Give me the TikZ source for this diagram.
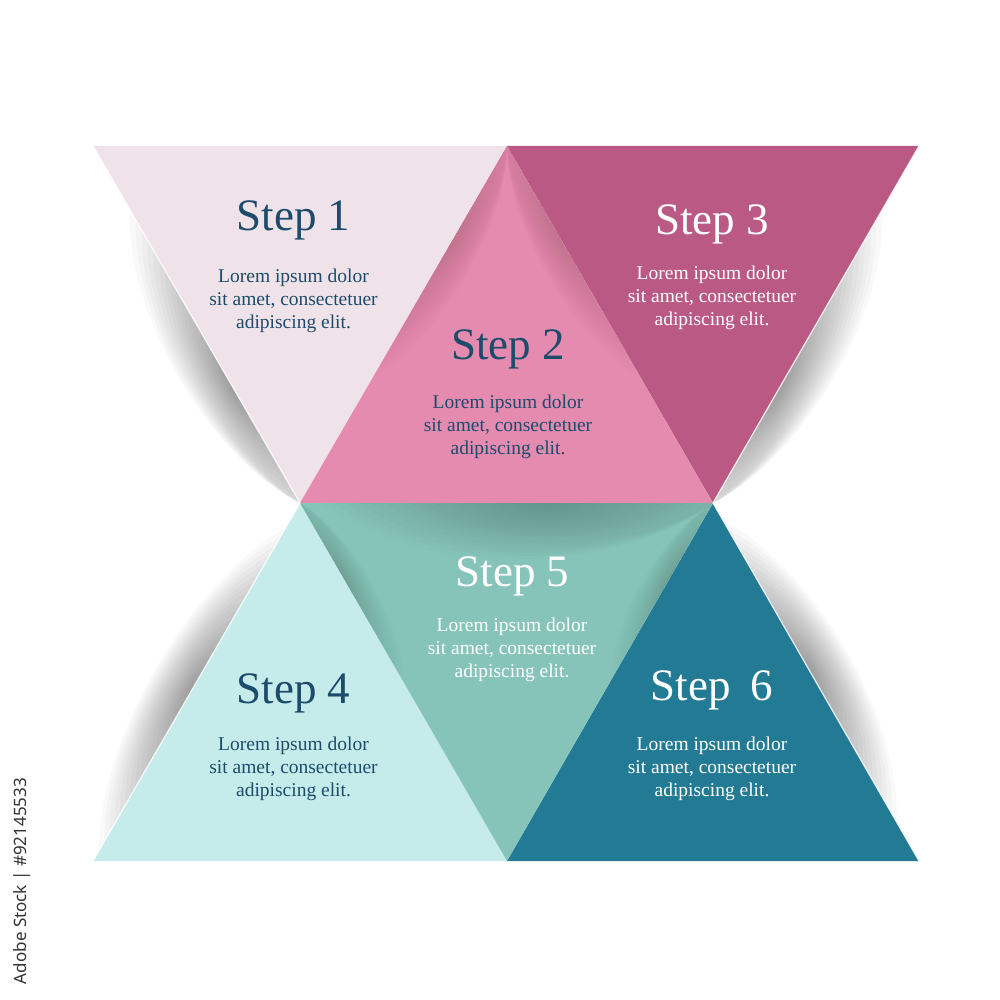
\documentclass[tikz,border=0pt]{standalone}
\usepackage{fontspec}
\setmainfont{Liberation Serif}
\newfontfamily\wmfont{Noto Sans}
\usetikzlibrary{calc}
\definecolor{cone}{HTML}{EFE3E9}
\definecolor{ctwo}{HTML}{E58BB0}
\definecolor{cthree}{HTML}{BB5985}
\definecolor{cfour}{HTML}{C5ECEA}
\definecolor{cfive}{HTML}{86C4B9}
\definecolor{csix}{HTML}{237A94}
\definecolor{navy}{HTML}{1C4B6B}
% #1 A, #2 B, #3 centre t, #4 half length, #5 normal, #6 depth, #7 opacity per layer
\newcommand\softshadow[7]{%
  \foreach \k in {1,...,18}{%
    \pgfmathsetmacro\ts{max(0,#3-#4*\k/18)}%
    \pgfmathsetmacro\te{min(1,#3+#4*\k/18)}%
    \pgfmathsetmacro\ta{\ts+(\te-\ts)*0.25}%
    \pgfmathsetmacro\tb{\ts+(\te-\ts)*0.75}%
    \pgfmathsetmacro\dd{#6*\k/18}%
    \fill[black, opacity=#7]
      ($(#1)!\ts!(#2)$) .. controls ($(#1)!\ta!(#2)+\dd*(#5)$) and ($(#1)!\tb!(#2)+\dd*(#5)$) .. ($(#1)!\te!(#2)$) -- cycle;
  }%
}
\tikzset{
  titletxt/.style={font=\fontsize{45}{54}\selectfont, anchor=base, inner sep=0pt},
  bodytxt/.style={font=\fontsize{19.5}{23}\selectfont, align=center, inner sep=0pt},
  rim/.style={white, line width=1.2pt, opacity=0.85}
}
\begin{document}
\begin{tikzpicture}[x=1pt,y=-1pt]
\useasboundingbox (0,0) rectangle (1000,1000);
\fill[white] (0,0) rectangle (1000,1000);
\coordinate (TL) at (93,146);
\coordinate (TM) at (507,146);
\coordinate (TR) at (919,146);
\coordinate (ML) at (300,503);
\coordinate (MR) at (713,503);
\coordinate (BL) at (93,861);
\coordinate (BM) at (507,861);
\coordinate (BR) at (919,861);
% outer shadows
\softshadow{TL}{ML}{0.68}{0.5}{-0.866,0.5}{56}{0.022}
\softshadow{TR}{MR}{0.68}{0.5}{0.866,0.5}{56}{0.022}
\softshadow{ML}{BL}{0.52}{0.45}{-0.866,-0.5}{56}{0.022}
\softshadow{MR}{BR}{0.47}{0.42}{0.866,-0.5}{56}{0.022}
% triangles
\fill[cone] (TL) -- (TM) -- (ML) -- cycle;
\fill[cthree] (TM) -- (TR) -- (MR) -- cycle;
\fill[ctwo] (ML) -- (TM) -- (MR) -- cycle;
\fill[cfour] (ML) -- (BL) -- (BM) -- cycle;
\fill[csix] (MR) -- (BM) -- (BR) -- cycle;
\fill[cfive] (ML) -- (MR) -- (BM) -- cycle;
% inner shadows
\begin{scope}
  \clip (ML) -- (TM) -- (MR) -- cycle;
  \softshadow{ML}{TM}{0.75}{0.4}{0.866,0.5}{40}{0.008}
  \softshadow{MR}{TM}{0.75}{0.4}{-0.866,0.5}{40}{0.008}
\end{scope}
\begin{scope}
  \clip (ML) -- (MR) -- (BM) -- cycle;
  \softshadow{ML}{MR}{0.6}{0.55}{0,1}{75}{0.011}
  \softshadow{ML}{BM}{0.2}{0.3}{0.866,-0.5}{30}{0.008}
  \softshadow{MR}{BM}{0.2}{0.3}{-0.866,-0.5}{30}{0.008}
\end{scope}
% rims
\draw[rim] (TL) -- (ML);
\draw[rim] (TR) -- (MR);
\draw[rim] (ML) -- (BL);
\draw[rim] (MR) -- (BR);
% texts
\node[titletxt, text=navy] (s1) at (293.5,230) {Step 1};
\node[bodytxt, text=navy] (b1) at (293.5,300.5) {Lorem ipsum dolor\\sit amet, consectetuer\\adipiscing elit.};
\node[titletxt, text=navy] (s2) at (508,359) {Step 2};
\node[bodytxt, text=navy] (b2) at (508,426.5) {Lorem ipsum dolor\\sit amet, consectetuer\\adipiscing elit.};
\node[titletxt, text=white] (s3) at (712,234) {Step 3};
\node[bodytxt, text=white] (b3) at (712,297.5) {Lorem ipsum dolor\\sit amet, consectetuer\\adipiscing elit.};
\node[titletxt, text=navy] (s4) at (293.5,703) {Step 4};
\node[bodytxt, text=navy] (b4) at (293.5,768.5) {Lorem ipsum dolor\\sit amet, consectetuer\\adipiscing elit.};
\node[titletxt, text=white] (s5) at (512.5,586) {Step 5};
\node[bodytxt, text=white] (b5) at (512,650) {Lorem ipsum dolor\\sit amet, consectetuer\\adipiscing elit.};
\node[titletxt, text=white] (s6) at (712,700) {Step\hskip0.45em 6};
\node[bodytxt, text=white] (b6) at (712,768.5) {Lorem ipsum dolor\\sit amet, consectetuer\\adipiscing elit.};
% stock label
\node[rotate=90, font=\wmfont\fontsize{17}{20}\selectfont, text=black!80, inner sep=0pt] (wm) at (22,881) {Adobe Stock | \#92145533};
\end{tikzpicture}
\end{document}
